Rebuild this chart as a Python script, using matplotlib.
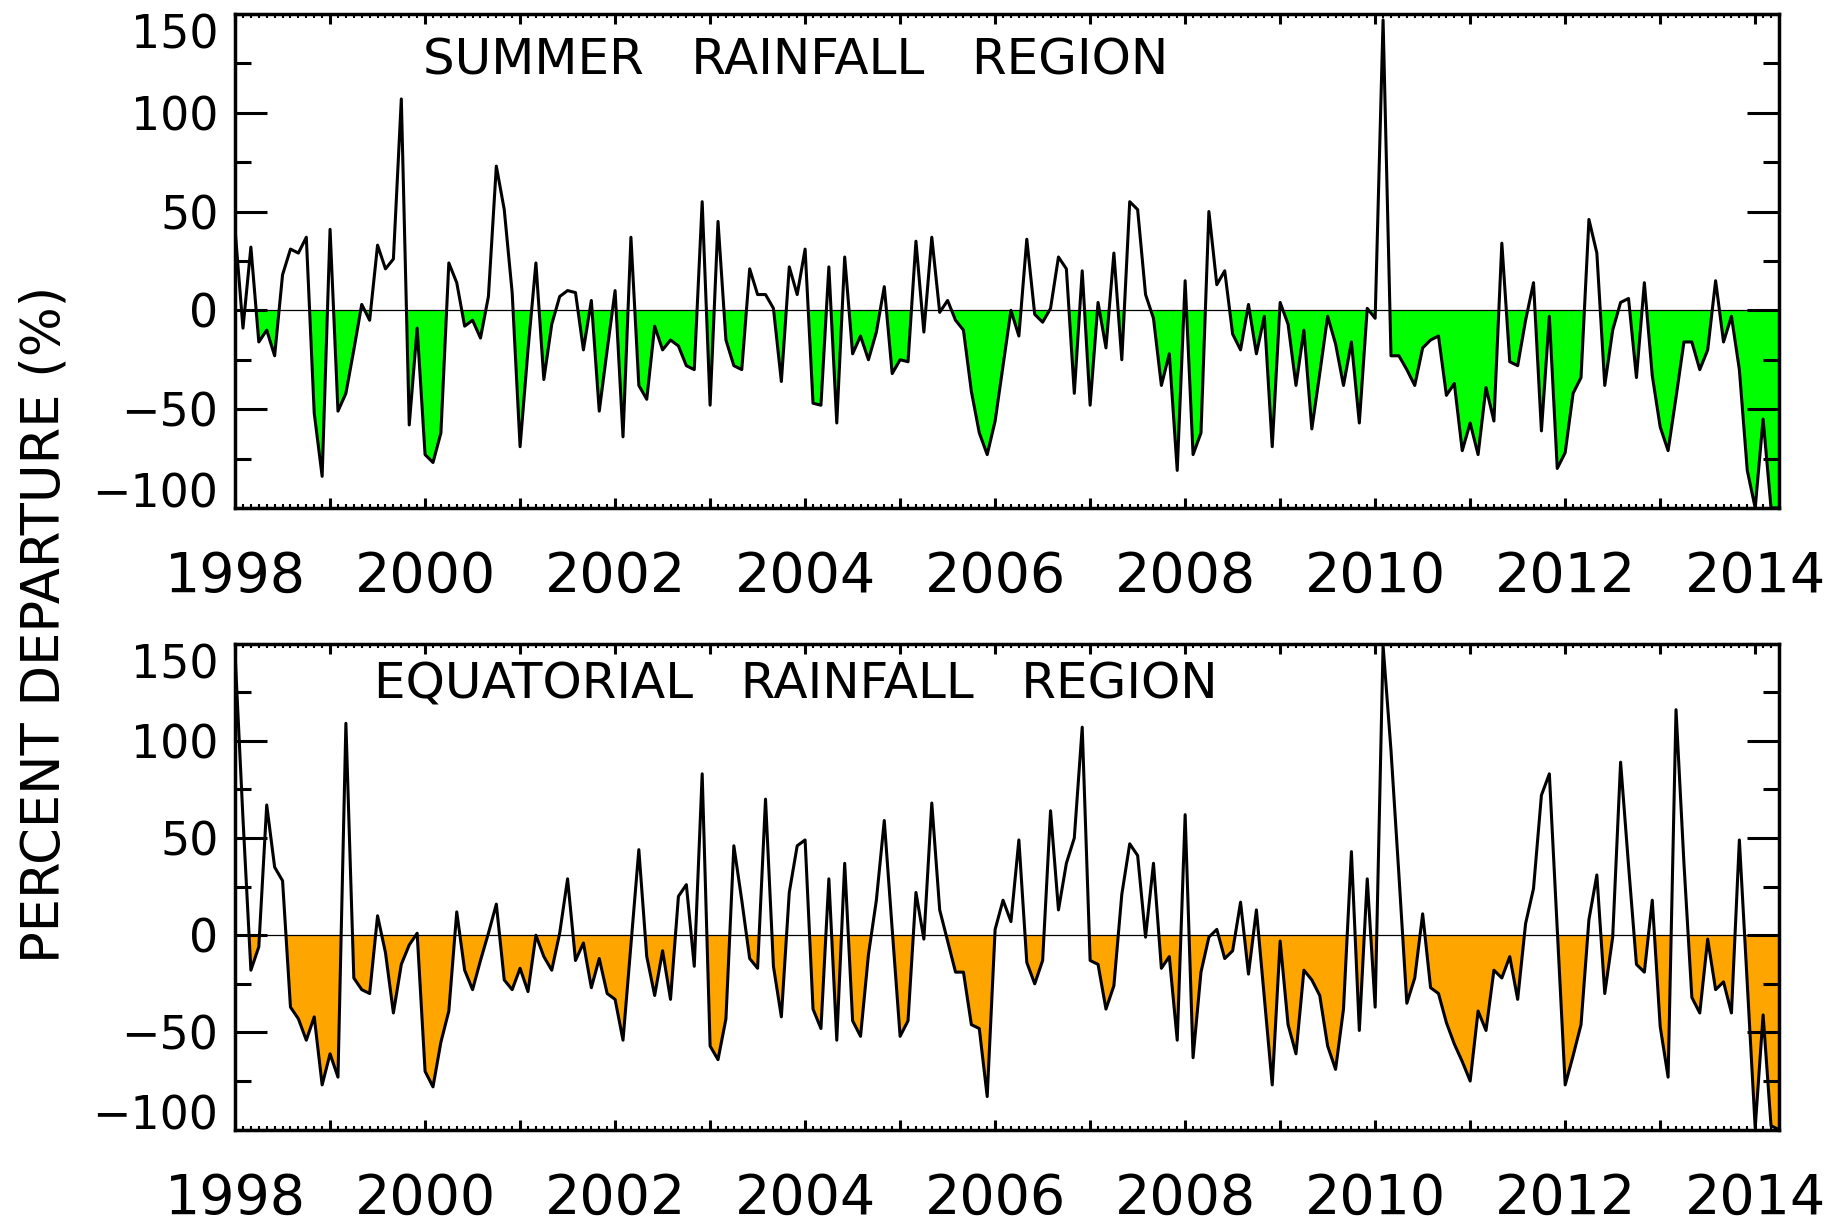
import numpy as np
import matplotlib
matplotlib.use("Agg")
import matplotlib.pyplot as plt
from matplotlib.ticker import MultipleLocator

# monthly percent departure, Jan 1998 .. Apr 2014
summer = [41, -9, 32, -16, -10, -23, 18, 31, 29, 37, -52, -84,
          41, -51, -42, -20, 3, -5, 33, 21, 26, 107, -58, -9,
          -73, -77, -62, 24, 14, -8, -5, -14, 7, 73, 51, 9,
          -69, -20, 24, -35, -7, 7, 10, 9, -20, 5, -51, -20,
          10, -64, 37, -38, -45, -8, -20, -15, -18, -28, -30, 55,
          -48, 45, -15, -28, -30, 21, 8, 8, 1, -36, 22, 8,
          31, -47, -48, 22, -57, 27, -22, -13, -25, -11, 12, -32,
          -25, -26, 35, -11, 37, -1, 5, -5, -10, -41, -62, -73,
          -56, -28, 0, -13, 36, -2, -6, 1, 27, 21, -42, 20,
          -48, 4, -19, 29, -25, 55, 51, 8, -4, -38, -22, -81,
          15, -73, -62, 50, 13, 20, -12, -20, 3, -22, -3, -69,
          4, -7, -38, -10, -60, -32, -3, -17, -38, -16, -57, 1,
          -4, 147, -23, -23, -30, -38, -19, -15, -13, -43, -37, -71,
          -57, -73, -39, -56, 34, -26, -28, -5, 14, -61, -3, -80,
          -72, -42, -34, 46, 29, -38, -10, 4, 6, -34, 14, -33,
          -59, -71, -44, -16, -16, -30, -20, 15, -16, -3, -30, -81,
          -100, -55, -100, -100]

equatorial = [145, 60, -18, -6, 67, 35, 28, -37, -43, -54, -42, -77,
              -61, -73, 109, -22, -28, -30, 10, -9, -40, -15, -5, 1,
              -70, -78, -55, -39, 12, -18, -28, -13, 1, 16, -23, -28,
              -17, -29, 0, -11, -18, 1, 29, -13, -4, -27, -12, -30,
              -33, -54, -5, 44, -11, -31, -8, -33, 20, 26, -16, 83,
              -57, -64, -43, 46, 18, -12, -17, 70, -16, -42, 22, 46,
              49, -38, -48, 29, -54, 37, -44, -52, -10, 18, 59, 3,
              -52, -44, 22, -2, 68, 13, -3, -19, -19, -46, -48, -83,
              3, 18, 7, 49, -14, -25, -13, 64, 13, 37, 50, 107,
              -13, -15, -38, -26, 21, 47, 41, -1, 37, -17, -11, -54,
              62, -63, -19, -1, 3, -12, -8, 17, -20, 13, -32, -77,
              -3, -46, -61, -18, -23, -31, -57, -69, -38, 43, -49, 29,
              -37, 149, 95, 31, -35, -22, 11, -27, -30, -45, -56, -65,
              -75, -39, -49, -18, -22, -11, -33, 6, 24, 72, 83, 3,
              -77, -62, -46, 8, 31, -30, -1, 89, 36, -15, -19, 18,
              -47, -73, 116, 37, -32, -40, -2, -28, -24, -40, 49, -25,
              -99, -41, -98, -100]

panels = [("SUMMER   RAINFALL   REGION", summer, "#00ff00"),
          ("EQUATORIAL   RAINFALL   REGION", equatorial, "#ffa500")]
title_pos = [(0.122, 0.905), (0.09, 0.915)]
year_labels = [str(y) if y % 2 == 0 else "" for y in range(1998, 2015)]

plt.rcParams["font.family"] = ["DejaVu Sans"]

fig = plt.figure(figsize=(18.45, 12.24), dpi=100)
boxes = [[0.1274, 0.585, 0.8368, 0.4036], [0.1274, 0.0771, 0.8368, 0.3971]]

for i, (title, vals, col) in enumerate(panels):
    ax = fig.add_axes(boxes[i])
    y = np.array(vals, dtype=float)
    x = 1998 + np.arange(len(y)) / 12.0
    ax.fill_between(x, y, 0, where=y < 0, interpolate=True, color=col, lw=0)
    ax.axhline(0, color="black", lw=0.9)
    ax.plot(x, y, color="black", lw=2.2)
    ax.set_xlim(1998, x[-1])
    ax.set_ylim(-100, 150)

    ax.set_xticks(range(1998, 2015))
    ax.set_xticklabels(year_labels)
    ax.xaxis.set_minor_locator(MultipleLocator(1 / 12))
    ax.set_yticks([-100, -50, 0, 50, 100, 150])
    ax.yaxis.set_minor_locator(MultipleLocator(25))
    ax.tick_params(which="both", direction="in", top=True, right=True, width=2.2)
    ax.tick_params(axis="y", which="major", length=23, labelsize=33, pad=12)
    ax.tick_params(axis="y", which="minor", length=11.5)
    ax.tick_params(axis="x", which="major", length=7, labelsize=40, pad=30)
    ax.tick_params(axis="x", which="minor", length=3, width=1.5)
    for s in ax.spines.values():
        s.set_linewidth(2.5)

    # end labels kept inside the axis height
    ylabels = ax.get_yticklabels()
    ylabels[0].set_va("baseline")
    ylabels[-1].set_va("top")

    ax.text(title_pos[i][0], title_pos[i][1], title, transform=ax.transAxes,
            fontsize=36, va="center", ha="left")

fig.text(0.024, 0.49, "PERCENT DEPARTURE (%)", rotation=90, fontsize=38,
         va="center", ha="center")

fig.savefig("out.png", dpi=100)
